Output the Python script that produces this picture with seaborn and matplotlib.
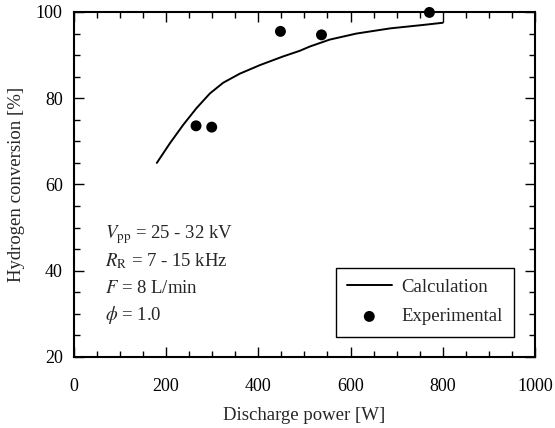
import matplotlib
matplotlib.use("Agg")
import matplotlib.pyplot as plt
import seaborn as sns
from matplotlib.ticker import MultipleLocator

sns.set_style("ticks")
plt.rcParams["font.family"] = ["Liberation Serif", "DejaVu Serif"]
plt.rcParams["mathtext.fontset"] = "stix"

# Calculation curve
calc_power = [180, 208, 237, 266, 295, 324, 360, 404, 454, 490, 512, 555, 613, 686, 758, 800]
calc_conv = [65.0, 69.5, 73.8, 77.7, 81.1, 83.6, 85.7, 87.7, 89.7, 91.0, 92.0, 93.6, 95.0, 96.2, 97.0, 97.5]

# Experimental points
exp_power = [265, 299, 448, 537, 771]
exp_conv = [73.6, 73.3, 95.5, 94.7, 99.9]

fig = plt.figure(figsize=(5.55, 4.28), dpi=100)
ax = fig.add_axes([0.133, 0.166, 0.831, 0.806])

sns.lineplot(x=calc_power, y=calc_conv, ax=ax, color="black", lw=1.4, label="Calculation")
sns.scatterplot(x=exp_power, y=exp_conv, ax=ax, color="black", s=62, edgecolor="none",
                label="Experimental", clip_on=False, zorder=5)

ax.set_xlim(0, 1000)
ax.set_ylim(20, 100)
ax.xaxis.set_major_locator(MultipleLocator(200))
ax.xaxis.set_minor_locator(MultipleLocator(50))
ax.yaxis.set_major_locator(MultipleLocator(20))
ax.yaxis.set_minor_locator(MultipleLocator(5))
ax.tick_params(which="both", direction="in", top=True, right=True, colors="black", labelsize=13)
ax.tick_params(axis="x", pad=15)
ax.tick_params(axis="y", pad=8)
ax.tick_params(which="major", length=7, width=1)
ax.tick_params(which="minor", length=4, width=1)
for s in ax.spines.values():
    s.set_linewidth(1.5)
    s.set_color("black")

ax.set_xlabel("Discharge power [W]", fontsize=13.5, labelpad=9)
ax.set_ylabel("Hydrogen conversion [%]", fontsize=13.5, labelpad=8)

lines = [r"$V_{\rm pp}$ = 25 - 32 kV", r"$R_{\rm R}$ = 7 - 15 kHz", r"$F$ = 8 L/min", r"$\phi$ = 1.0"]
for i, t in enumerate(lines):
    ax.text(0.067, 0.355 - i * 0.078, t, transform=ax.transAxes, fontsize=13.5, va="center")

leg = ax.legend(loc="lower right", bbox_to_anchor=(0.954, 0.059), borderaxespad=0, fontsize=13.5,
                frameon=True, fancybox=False, edgecolor="black", handlelength=2.4,
                borderpad=0.6, labelspacing=0.65, handletextpad=0.5)
leg.get_frame().set_linewidth(1.0)
leg.get_frame().set_alpha(1)

fig.savefig("out.png", dpi=100)
